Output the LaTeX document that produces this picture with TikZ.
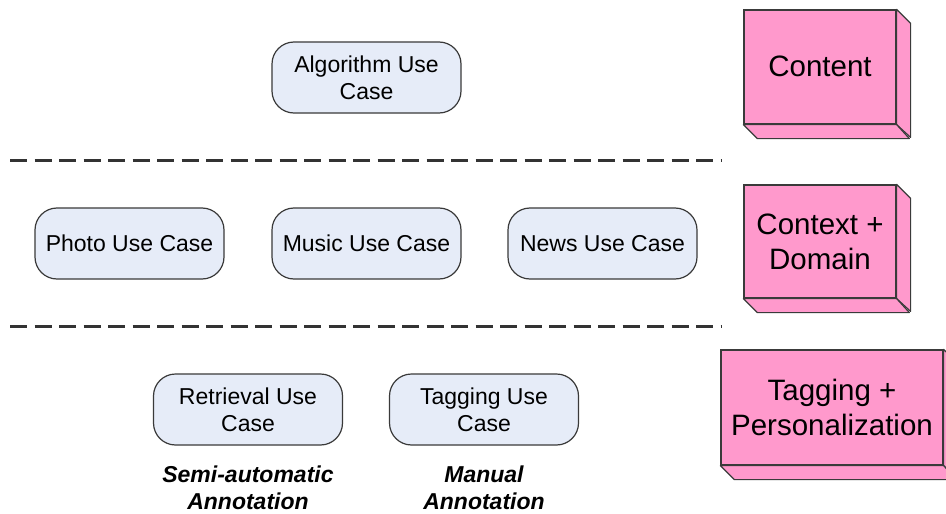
\documentclass[tikz,border=0pt]{standalone}
\usepackage{fontspec}
\setmainfont{Liberation Sans}
\definecolor{ucfill}{HTML}{E6ECF8}
\definecolor{ucline}{HTML}{3A3A3A}
\definecolor{pinkfill}{HTML}{FF99CC}
\definecolor{dashcol}{HTML}{333333}
\begin{document}
\begin{tikzpicture}[x=1pt,y=-1pt,
  usecase/.style={draw=ucline, line width=1.2pt, fill=ucfill, rounded corners=22pt,
    minimum width=189pt, minimum height=71pt, inner sep=0pt, align=center,
    font=\fontsize{23}{27}\selectfont},
  cube/.style={draw=ucline, line width=1.2pt, fill=pinkfill, inner sep=0pt, align=center,
    font=\fontsize{29.5}{35}\selectfont},
  cubeside/.style={draw=ucline, line width=1.2pt, fill=pinkfill, line join=round},
  sepline/.style={draw=dashcol, line width=3pt, dash pattern=on 17pt off 7.5pt},
  annot/.style={inner sep=0pt, align=center, font=\fontsize{23}{27}\selectfont\bfseries\itshape}
]
\clip (0,0) rectangle (946,514);
\fill[white] (0,0) rectangle (946,514);

% separators
\coordinate (s1a) at (10,160);
\coordinate (s1b) at (722,160);
\coordinate (s2a) at (10,326);
\coordinate (s2b) at (722,326);
\draw[sepline] (s1a) -- (s1b);
\draw[sepline] (s2a) -- (s2b);

% use cases
\node[usecase] (alg) at (366.5,77.5) {Algorithm Use\\Case};
\node[usecase] (photo) at (129.5,243.5) {Photo Use Case};
\node[usecase] (music) at (366.5,243.5) {Music Use Case};
\node[usecase] (news) at (602.5,243.5) {News Use Case};
\node[usecase] (retr) at (248,409.5) {Retrieval Use\\Case};
\node[usecase] (tagg) at (484,409.5) {Tagging Use\\Case};

% annotations
\node[annot] (semi) at (248,488) {Semi-automatic\\Annotation};
\node[annot] (manual) at (484,488) {Manual\\Annotation};

% 3D boxes
\node[cube, minimum width=152pt, minimum height=114pt] (content) at (820,67) {\raisebox{2pt}{Content}};
\draw[cubeside] (content.north east) -- ++(14,14) -- ++(0,114) -- (content.south east) -- cycle;
\draw[cubeside] (content.south west) -- ++(14,14) -- ++(152,0) -- (content.south east) -- cycle;

\node[cube, minimum width=152pt, minimum height=113pt] (context) at (820,241.5) {Context +\\Domain};
\draw[cubeside] (context.north east) -- ++(14,14) -- ++(0,113) -- (context.south east) -- cycle;
\draw[cubeside] (context.south west) -- ++(14,14) -- ++(152,0) -- (context.south east) -- cycle;

\node[cube, minimum width=222pt, minimum height=115pt] (tagpers) at (832,407.5) {Tagging +\\Personalization};
\draw[cubeside] (tagpers.north east) -- ++(14,14) -- ++(0,115) -- (tagpers.south east) -- cycle;
\draw[cubeside] (tagpers.south west) -- ++(14,14) -- ++(222,0) -- (tagpers.south east) -- cycle;
\end{tikzpicture}
\end{document}
